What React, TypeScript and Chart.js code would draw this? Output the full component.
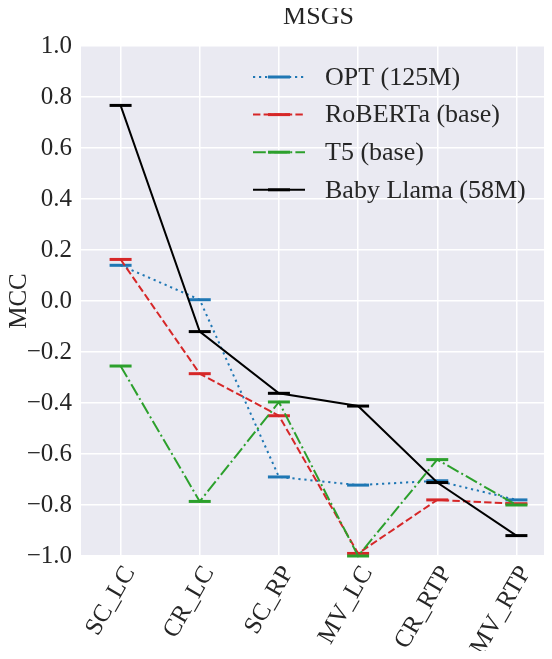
import React, { useEffect, useRef } from 'react';
import { Chart, registerables } from 'chart.js';

Chart.register(...registerables);

const categories = ['SC_LC', 'CR_LC', 'SC_RP', 'MV_LC', 'CR_RTP', 'MV_RTP'];
const optValues = [0.14, 0.005, -0.69, -0.722, -0.705, -0.78];
const robertaValues = [0.163, -0.285, -0.45, -0.99, -0.78, -0.795];
const t5Values = [-0.255, -0.786, -0.396, -1.0, -0.622, -0.8];
const llamaValues = [0.767, -0.12, -0.362, -0.412, -0.712, -0.92];
const seriesNames = ['OPT (125M)', 'RoBERTa (base)', 'T5 (base)', 'Baby Llama (58M)'];
const chartTitle = 'MSGS';
const yAxisLabel = 'MCC';

const FONT = "'Liberation Serif', 'Times New Roman', serif";
const TEXT = '#262626';
const FS = 25;

const fmt = (v: number) => {
  const n = Math.abs(v) < 1e-9 ? 0 : v;
  return n.toFixed(1).replace('-', '\u2212');
};

const bgPlugin = {
  id: 'bgPlugin',
  beforeDraw(chart: any) {
    const { ctx, chartArea } = chart;
    ctx.save();
    ctx.fillStyle = '#EAEAF2';
    ctx.fillRect(chartArea.left, chartArea.top, chartArea.right - chartArea.left, chartArea.bottom - chartArea.top);
    ctx.restore();
  },
};

const legendPlugin = {
  id: 'legendInside',
  afterDraw(chart: any) {
    const { ctx, chartArea } = chart;
    ctx.save();
    const x0 = chartArea.left + 172;
    const y0 = chartArea.top + 31;
    const rowH = 37.6;
    chart.data.datasets.forEach((ds: any, i: number) => {
      const y = y0 + i * rowH;
      ctx.strokeStyle = ds.borderColor;
      ctx.lineWidth = ds.borderWidth;
      ctx.setLineDash(ds.borderDash || []);
      ctx.beginPath();
      ctx.moveTo(x0, y);
      ctx.lineTo(x0 + 52, y);
      ctx.stroke();
      ctx.setLineDash([]);
      ctx.lineWidth = 3;
      ctx.beginPath();
      ctx.moveTo(x0 + 15, y);
      ctx.lineTo(x0 + 37, y);
      ctx.stroke();
      ctx.fillStyle = TEXT;
      ctx.font = `26px ${FONT}`;
      ctx.textBaseline = 'middle';
      ctx.textAlign = 'left';
      ctx.fillText(ds.label, x0 + 72, y + 1);
    });
    ctx.restore();
  },
};

export default function App() {
  const ref = useRef<HTMLCanvasElement>(null);
  useEffect(() => {
    if (!ref.current) return;
    const mk = (label: string, data: number[], color: string, dash: number[], order: number) => ({
      label,
      data,
      borderColor: color,
      backgroundColor: color,
      borderWidth: 2,
      borderDash: dash,
      pointStyle: 'line',
      pointRadius: 11,
      pointBorderWidth: 3,
      pointBorderColor: color,
      pointHoverRadius: 11,
      tension: 0,
      fill: false,
      clip: false,
      order,
    });
    const chart = new Chart(ref.current, {
      type: 'line',
      data: {
        labels: categories,
        datasets: [
          mk(seriesNames[0], optValues, '#1f77b4', [2.2, 3.8], 4),
          mk(seriesNames[1], robertaValues, '#d62728', [7.4, 3.2], 3),
          mk(seriesNames[2], t5Values, '#2ca02c', [12.8, 3.2, 2, 3.2], 2),
          mk(seriesNames[3], llamaValues, '#000000', [], 1),
        ] as any,
      },
      options: {
        animation: false,
        responsive: false,
        devicePixelRatio: 1,
        layout: { padding: 0, autoPadding: false } as any,
        plugins: {
          legend: { display: false },
          tooltip: { enabled: false },
          title: {
            display: true,
            text: chartTitle,
            color: TEXT,
            font: { family: FONT, size: 26, weight: 'normal' as any },
            padding: { top: 2, bottom: 12.8 },
            fullSize: false,
          } as any,
        },
        scales: {
          x: {
            type: 'category',
            offset: true,
            grid: { color: '#ffffff', lineWidth: 1.5, drawTicks: false, offset: false } as any,
            border: { display: false },
            ticks: {
              autoSkip: false,
              minRotation: 60,
              maxRotation: 60,
              padding: 5,
              labelOffset: 9,
              color: TEXT,
              font: { family: FONT, size: FS },
            },
            afterFit: (s: any) => {
              s.height = 103;
              s.paddingLeft = 0;
              s.paddingRight = 0;
            },
          },
          y: {
            min: -1,
            max: 1,
            grid: { color: '#ffffff', lineWidth: 1.5, drawTicks: false },
            border: { display: false },
            ticks: {
              stepSize: 0.2,
              padding: 9,
              color: TEXT,
              font: { family: FONT, size: FS },
              callback: (v: any) => fmt(Number(v)),
            },
            title: {
              display: true,
              text: yAxisLabel,
              color: TEXT,
              font: { family: FONT, size: FS },
              padding: { top: 4, bottom: 0 },
            },
            afterFit: (s: any) => {
              s.width = 81;
            },
          },
        },
      },
      plugins: [bgPlugin, legendPlugin],
    });
    return () => chart.destroy();
  }, []);
  return (
    <div style={{ margin: -8, width: 552, height: 659, overflow: 'hidden' }}>
      <canvas ref={ref} width={556} height={659} style={{ display: 'block' }} />
    </div>
  );
}
